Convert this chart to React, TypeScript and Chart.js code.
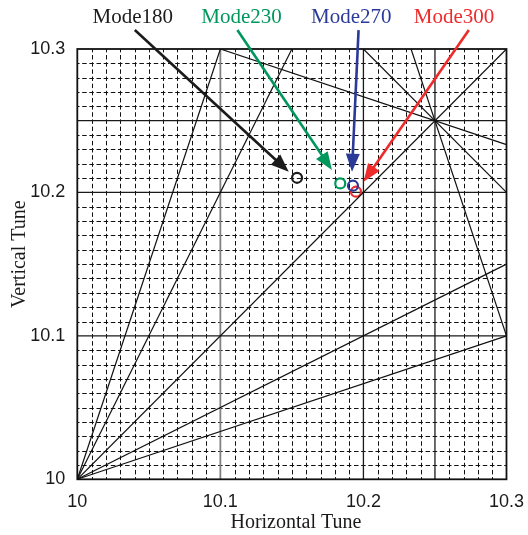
import React, { useEffect, useRef } from 'react';
import { Chart, registerables } from 'chart.js';

Chart.register(...registerables);

// ---- data ----
const AXIS_MIN = 10;
const AXIS_MAX = 10.3;
const TICK_LABEL_VALUES = [10, 10.1, 10.2, 10.3];
const MAJOR_GRID_X = [10.1, 10.2, 10.25];
const MAJOR_GRID_Y = [10.1, 10.2, 10.25];
const MINOR_STEP = 0.01;

// resonance lines (start/end points)
const RES_START_X = [10, 10, 10, 10, 10, 10.1, 10.2, 10.2333];
const RES_START_Y = [10, 10, 10, 10, 10, 10.3, 10.3, 10.3];
const RES_END_X = [10.1, 10.15, 10.3, 10.3, 10.3, 10.3, 10.3, 10.3];
const RES_END_Y = [10.3, 10.3, 10.3, 10.15, 10.1, 10.2333, 10.2, 10.1];

const MODE_NAMES = ['Mode180', 'Mode230', 'Mode270', 'Mode300'];
const MODE_COLORS = ['#1b1b1b', '#00975c', '#2b3a98', '#ee2a2a'];
const TUNE_X = [10.1536, 10.1838, 10.1927, 10.1948];
const TUNE_Y = [10.2102, 10.2063, 10.2047, 10.2005];

const LABEL_X = [10.0388, 10.1148, 10.1915, 10.2633];
const LABEL_Y = [10.3179, 10.3179, 10.3179, 10.3179];
const ARROW_START_X = [10.0402, 10.1119, 10.1966, 10.2737];
const ARROW_START_Y = [10.3132, 10.3132, 10.3132, 10.3132];
const ARROW_TIP_X = [10.1478, 10.178, 10.192, 10.2001];
const ARROW_TIP_Y = [10.2144, 10.2156, 10.2144, 10.2074];

const X_TITLE = 'Horizontal Tune';
const Y_TITLE = 'Vertical Tune';

const SERIF = '"Liberation Serif", "DejaVu Serif", serif';
const SANS = '"Liberation Sans", Arial, sans-serif';

const fmt = (v: number) => Number(v).toFixed(1).replace(/\.0$/, '');

const overlayPlugin = {
  id: 'tuneOverlay',
  beforeDatasetsDraw(chart: any) {
    const { ctx, chartArea } = chart;
    const { left, right, top, bottom } = chartArea;
    const xs = chart.scales.x;
    const ys = chart.scales.y;
    ctx.save();
    // minor dashed grid
    ctx.strokeStyle = '#111';
    ctx.lineWidth = 1;
    const cell = Math.abs(xs.getPixelForValue(AXIS_MIN + MINOR_STEP) - xs.getPixelForValue(AXIS_MIN));
    const dashLen = 4.5;
    ctx.setLineDash([dashLen, cell / 2 - dashLen]);
    ctx.lineDashOffset = dashLen / 2;
    const n = Math.round((AXIS_MAX - AXIS_MIN) / MINOR_STEP);
    const isMajor = (v: number, arr: number[]) => arr.some((m) => Math.abs(m - v) < 1e-6);
    for (let i = 1; i < n; i++) {
      const v = AXIS_MIN + i * MINOR_STEP;
      if (!isMajor(v, MAJOR_GRID_X)) {
        const px = Math.round(xs.getPixelForValue(v)) + 0.5;
        ctx.beginPath();
        ctx.moveTo(px, bottom);
        ctx.lineTo(px, top);
        ctx.stroke();
      }
      if (!isMajor(v, MAJOR_GRID_Y)) {
        const py = Math.round(ys.getPixelForValue(v)) + 0.5;
        ctx.beginPath();
        ctx.moveTo(left, py);
        ctx.lineTo(right, py);
        ctx.stroke();
      }
    }
    ctx.setLineDash([]);
    // major solid grid
    MAJOR_GRID_X.forEach((v, i) => {
      const px = xs.getPixelForValue(v);
      ctx.strokeStyle = i === 0 ? '#808080' : '#1a1a1a';
      ctx.lineWidth = i === 0 ? 1.8 : 1.3;
      ctx.beginPath();
      ctx.moveTo(px, bottom);
      ctx.lineTo(px, top);
      ctx.stroke();
    });
    ctx.strokeStyle = '#1a1a1a';
    ctx.lineWidth = 1.3;
    MAJOR_GRID_Y.forEach((v) => {
      const py = ys.getPixelForValue(v);
      ctx.beginPath();
      ctx.moveTo(left, py);
      ctx.lineTo(right, py);
      ctx.stroke();
    });
    // frame
    ctx.strokeStyle = '#111';
    ctx.lineWidth = 1.8;
    ctx.strokeRect(left, top, right - left, bottom - top);
    ctx.restore();
  },
  afterDatasetsDraw(chart: any) {
    const { ctx, chartArea } = chart;
    const xs = chart.scales.x;
    const ys = chart.scales.y;
    ctx.save();
    // arrows
    MODE_NAMES.forEach((_, i) => {
      const x0 = xs.getPixelForValue(ARROW_START_X[i]);
      const y0 = ys.getPixelForValue(ARROW_START_Y[i]);
      const x1 = xs.getPixelForValue(ARROW_TIP_X[i]);
      const y1 = ys.getPixelForValue(ARROW_TIP_Y[i]);
      const ang = Math.atan2(y1 - y0, x1 - x0);
      const headLen = 18;
      const headHalf = 7;
      const bx = x1 - headLen * Math.cos(ang);
      const by = y1 - headLen * Math.sin(ang);
      ctx.strokeStyle = MODE_COLORS[i];
      ctx.fillStyle = MODE_COLORS[i];
      ctx.lineWidth = 2.6;
      ctx.beginPath();
      ctx.moveTo(x0, y0);
      ctx.lineTo(bx + 2 * Math.cos(ang), by + 2 * Math.sin(ang));
      ctx.stroke();
      ctx.beginPath();
      ctx.moveTo(x1, y1);
      ctx.lineTo(bx - headHalf * Math.sin(ang), by + headHalf * Math.cos(ang));
      ctx.lineTo(bx + headHalf * Math.sin(ang), by - headHalf * Math.cos(ang));
      ctx.closePath();
      ctx.fill();
    });
    // labels
    ctx.font = `21px ${SERIF}`;
    ctx.textAlign = 'center';
    ctx.textBaseline = 'alphabetic';
    MODE_NAMES.forEach((name, i) => {
      ctx.fillStyle = MODE_COLORS[i];
      ctx.fillText(name, xs.getPixelForValue(LABEL_X[i]), ys.getPixelForValue(LABEL_Y[i]));
    });
    // axis titles
    ctx.fillStyle = '#1a1a1a';
    ctx.font = `20px ${SERIF}`;
    ctx.textAlign = 'center';
    ctx.fillText(X_TITLE, (chartArea.left + chartArea.right) / 2 + 4, 528);
    ctx.save();
    ctx.translate(25, (chartArea.top + chartArea.bottom) / 2 - 10);
    ctx.rotate(-Math.PI / 2);
    ctx.fillText(Y_TITLE, 0, 0);
    ctx.restore();
    ctx.restore();
  },
};

export default function App() {
  const ref = useRef<HTMLCanvasElement | null>(null);
  useEffect(() => {
    if (!ref.current) return;
    const datasets: any[] = [];
    RES_START_X.forEach((_, i) => {
      datasets.push({
        type: 'line',
        data: [
          { x: RES_START_X[i], y: RES_START_Y[i] },
          { x: RES_END_X[i], y: RES_END_Y[i] },
        ],
        borderColor: '#111',
        borderWidth: 1.2,
        pointRadius: 0,
        fill: false,
        tension: 0,
      });
    });
    MODE_NAMES.forEach((name, i) => {
      datasets.push({
        type: 'scatter',
        label: name,
        data: [{ x: TUNE_X[i], y: TUNE_Y[i] }],
        pointRadius: 5,
        pointBorderWidth: 2.2,
        pointBackgroundColor: 'rgba(0,0,0,0)',
        pointBorderColor: MODE_COLORS[i],
        borderColor: MODE_COLORS[i],
      });
    });
    const tickCommon = {
      font: { family: SANS, size: 18 },
      color: '#1a1a1a',
      autoSkip: false,
      maxRotation: 0,
      callback: (v: any) => fmt(v),
    };
    const chart = new Chart(ref.current, {
      type: 'scatter',
      data: { datasets },
      options: {
        animation: false,
        responsive: false,
        events: [],
        layout: { padding: { left: 0, top: 49, right: 20.3, bottom: 0 } },
        plugins: { legend: { display: false }, tooltip: { enabled: false } },
        scales: {
          x: {
            type: 'linear',
            min: AXIS_MIN,
            max: AXIS_MAX,
            grid: { display: false },
            border: { display: false },
            ticks: { ...tickCommon, padding: 4 },
            afterBuildTicks: (s: any) => {
              s.ticks = TICK_LABEL_VALUES.map((v) => ({ value: v }));
            },
            afterFit: (s: any) => {
              s.height = 55.7;
            },
          },
          y: {
            type: 'linear',
            min: AXIS_MIN,
            max: AXIS_MAX,
            grid: { display: false },
            border: { display: false },
            ticks: { ...tickCommon, padding: 4 },
            afterBuildTicks: (s: any) => {
              s.ticks = TICK_LABEL_VALUES.map((v) => ({ value: v }));
            },
            afterFit: (s: any) => {
              s.width = 77.3;
            },
          },
        },
      },
      plugins: [overlayPlugin],
    } as any);
    return () => chart.destroy();
  }, []);
  return (
    <div style={{ position: 'absolute', left: 0, top: 0, width: 528, height: 535, background: '#fff' }}>
      <canvas ref={ref} width={528} height={535} />
    </div>
  );
}
